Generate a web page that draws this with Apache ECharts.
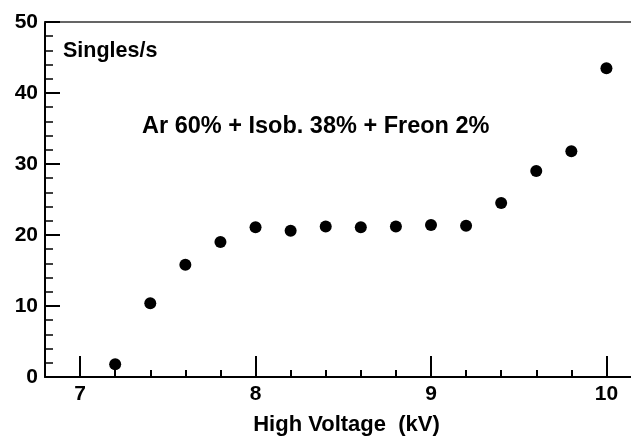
<!DOCTYPE html>
<html>
<head>
<meta charset="utf-8">
<script src="https://cdn.jsdelivr.net/npm/echarts@6/dist/echarts.min.js"></script>
<style>
  html, body { margin: 0; padding: 0; background: #fff; }
  #chart { width: 631px; height: 441px; }
</style>
</head>
<body>
<div id="chart"></div>
<script>
// data
const voltages = [7.2, 7.4, 7.6, 7.8, 8.0, 8.2, 8.4, 8.6, 8.8, 9.0, 9.2, 9.4, 9.6, 9.8, 10.0];
const singles = [1.8, 10.4, 15.8, 19.0, 21.1, 20.6, 21.2, 21.1, 21.2, 21.4, 21.3, 24.5, 29.0, 31.8, 43.5];
const xMajorTicks = [7, 8, 9, 10];
const yTicks = [0, 10, 20, 30, 40, 50];

const xMinorTicks = [];
for (let v = 7; v <= 10.001; v += 0.2) xMinorTicks.push(Math.round(v * 10) / 10);

const labelFont = { color: '#000', fontFamily: 'Liberation Sans', fontWeight: 'bold', fontSize: 21 };

const chart = echarts.init(document.getElementById('chart'));
const option = {
  animation: false,
  backgroundColor: '#fff',
  grid: { left: 45, right: 0, top: 22, bottom: 63 },
  xAxis: [
    {
      type: 'value', min: 6.8, max: 10.14, position: 'bottom',
      splitLine: { show: false },
      axisLine: { show: true, onZero: false, lineStyle: { color: '#000', width: 2 } },
      axisTick: { show: true, inside: true, length: 7, customValues: xMinorTicks, lineStyle: { color: '#000', width: 2 } },
      axisLabel: Object.assign({ margin: 7, customValues: xMajorTicks, formatter: v => String(v) }, labelFont),
      name: 'High Voltage  (kV)', nameLocation: 'middle', nameGap: 37,
      nameTextStyle: { color: '#000', fontFamily: 'Liberation Sans', fontWeight: 'bold', fontSize: 22, padding: [0, 0, 0, 17] }
    },
    {
      type: 'value', min: 6.8, max: 10.14, position: 'bottom',
      splitLine: { show: false },
      axisLine: { show: false },
      axisTick: { show: true, inside: true, length: 21, customValues: xMajorTicks, lineStyle: { color: '#000', width: 2 } },
      axisLabel: { show: false }
    },
    {
      type: 'value', min: 6.8, max: 10.14, position: 'top',
      splitLine: { show: false },
      axisLine: { show: true, onZero: false, lineStyle: { color: '#333', width: 1.5 } },
      axisTick: { show: false },
      axisLabel: { show: false }
    }
  ],
  yAxis: {
    type: 'value', min: yTicks[0], max: yTicks[yTicks.length - 1], interval: 10,
    splitLine: { show: false },
    axisLine: { show: true, onZero: false, lineStyle: { color: '#000', width: 2 } },
    axisTick: { show: true, inside: true, length: 15, lineStyle: { color: '#000', width: 2 } },
    minorTick: { show: true, splitNumber: 5, length: 8, lineStyle: { color: '#000', width: 1.5 } },
    axisLabel: Object.assign({ margin: 7 }, labelFont)
  },
  graphic: [
    {
      type: 'text', left: 63, top: 40,
      style: { text: 'Singles/s', fill: '#000', font: 'bold 21.5px "Liberation Sans"' }
    },
    {
      type: 'text', left: 142, top: 115,
      style: { text: 'Ar 60% + Isob. 38% + Freon 2%', fill: '#000', font: 'bold 23.5px "Liberation Sans"' }
    }
  ],
  series: [{
    type: 'scatter',
    xAxisIndex: 0,
    yAxisIndex: 0,
    symbol: 'circle',
    symbolSize: 12,
    itemStyle: { color: '#000', opacity: 1 },
    data: voltages.map((v, i) => [v, singles[i]])
  }]
};
chart.setOption(option);
</script>
</body>
</html>
